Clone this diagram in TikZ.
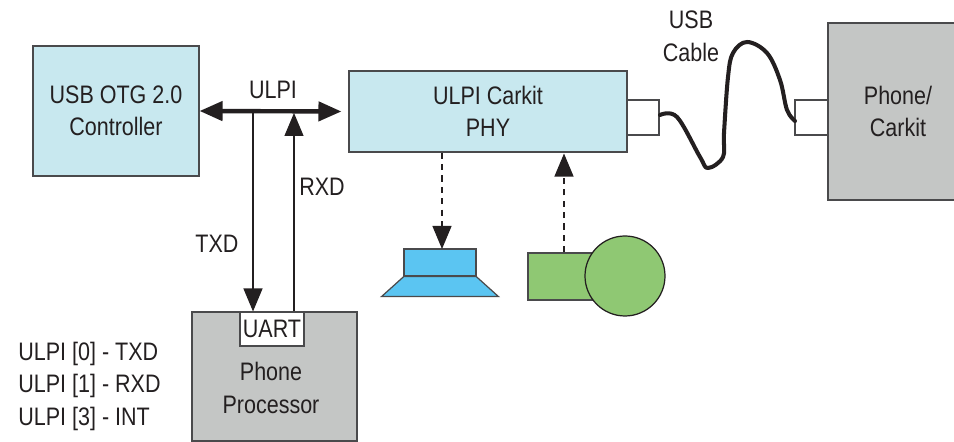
\documentclass[tikz,border=0pt]{standalone}
\usepackage{fontspec}
\setmainfont[FakeStretch=0.85]{Liberation Sans}
\usepackage{xcolor}
\usetikzlibrary{arrows.meta,shapes.geometric}
\definecolor{inkDark}{HTML}{231F20}
\definecolor{edgeGrey}{HTML}{4A4A4C}
\definecolor{ctrlBlue}{HTML}{C8E8EF}
\definecolor{unitGrey}{HTML}{C4C6C5}
\definecolor{spkBlue}{HTML}{5BC5F2}
\definecolor{micGreen}{HTML}{8FC873}

\begin{document}
\begin{tikzpicture}[
        lbl/.style={font=\fontsize{14.4}{18.5}\selectfont, text=inkDark, align=center, inner sep=0pt},
        ctrlbox/.style={draw=edgeGrey, line width=0.6pt, fill=ctrlBlue, lbl},
        unitbox/.style={draw=edgeGrey, line width=0.6pt, fill=unitGrey, lbl},
        portbox/.style={draw=edgeGrey, line width=0.6pt, fill=white, lbl},
        bus/.style={{Triangle[length=0.46cm,width=0.38cm]}-{Triangle[length=0.46cm,width=0.38cm]}, line width=2.5pt, draw=inkDark},
        sig/.style={-{Triangle[length=0.46cm,width=0.38cm]}, line width=0.7pt, draw=inkDark},
        dsig/.style={-{Triangle[length=0.46cm,width=0.38cm]}, line width=0.7pt, dash pattern=on 3.5pt off 3pt, draw=inkDark},
        cable/.style={line width=2.3pt, draw=inkDark, line cap=round, line join=round}
    ]
        \useasboundingbox (0,0) rectangle (19.08,8.84);

        \node[ctrlbox, minimum width=3.32cm, minimum height=2.6cm] (ctrl) at (2.32,6.62) {USB OTG 2.0\\Controller};
        \node[ctrlbox, minimum width=5.56cm, minimum height=1.62cm] (phy) at (9.76,6.61) {ULPI Carkit\\PHY};
        \node[portbox, minimum width=0.64cm, minimum height=0.7cm] (phyport) at (12.86,6.49) {};

        \node[unitbox, minimum width=2.8cm, minimum height=3.54cm] (carkit) at (17.96,6.61) {Phone/\\Carkit};
        \node[portbox, minimum width=0.66cm, minimum height=0.7cm] (carport) at (16.23,6.49) {};

        \node[unitbox, minimum width=3.3cm, minimum height=2.58cm] (proc) at (5.49,1.31) {};
        \node[portbox, minimum width=1.28cm, minimum height=0.68cm] (uart) at (5.44,2.26) {UART};
        \node[lbl] (proctext) at (5.42,1.08) {Phone\\Processor};

        \node[lbl, align=left, anchor=west] (pinmap) at (0.36,1.12) {ULPI [0] - TXD\\ULPI [1] - RXD\\ULPI [3] - INT};

        \node[lbl] (ulpi) at (5.46,7.04) {ULPI};
        \node[lbl] (txd) at (4.34,3.96) {TXD};
        \node[lbl] (rxd) at (6.44,5.10) {RXD};
        \node[lbl] (usbcable) at (13.82,8.11) {USB\\Cable};

        % speaker
        \node[draw=edgeGrey, line width=0.7pt, fill=spkBlue, minimum width=1.44cm, minimum height=0.54cm, inner sep=0pt] (spkbox) at (8.80,3.59) {};
        \node[draw=edgeGrey, line width=0.7pt, fill=spkBlue, trapezium, trapezium angle=73, trapezium stretches=true,
              minimum width=2.34cm, minimum height=0.4cm, inner sep=1pt, outer sep=0pt, anchor=north] (spkcone) at (spkbox.south) {};

        % microphone
        \node[draw=edgeGrey, line width=0.7pt, fill=micGreen, minimum width=1.44cm, minimum height=0.94cm, inner sep=0pt] (micbody) at (11.28,3.31) {};
        \node[draw=inkDark, line width=0.7pt, fill=micGreen, circle, minimum size=1.6cm, inner sep=0pt] (micball) at (12.50,3.32) {};

        \coordinate (txdtop) at (5.06,6.62);
        \coordinate (rxdtop) at (5.88,6.58);
        \coordinate (spkin) at (8.84,3.86);
        \coordinate (cabout) at (13.20,6.54);
        \coordinate (cabin) at (15.90,6.42);

        \draw[bus, shorten >=0.14cm] (ctrl.east) -- (phy.west);
        \draw[sig] (txdtop) -- (txdtop |- uart.north);
        \draw[sig] (rxdtop |- uart.north) -- (rxdtop);
        \draw[dsig] (spkin |- phy.south) -- (spkin);
        \draw[dsig, shorten >=0.02cm] (micbody.north) -- (micbody.north |- phy.south);

        \draw[cable] plot[smooth, tension=0.6] coordinates {(cabout) (13.54,6.50) (14.0,5.70) (14.16,5.48) (14.46,5.70)
            (14.48,6.18) (14.56,7.30) (14.66,7.78) (14.94,8.0) (15.34,7.78) (15.60,7.24) (15.74,6.64) (cabin)};
    \end{tikzpicture}
\end{document}
